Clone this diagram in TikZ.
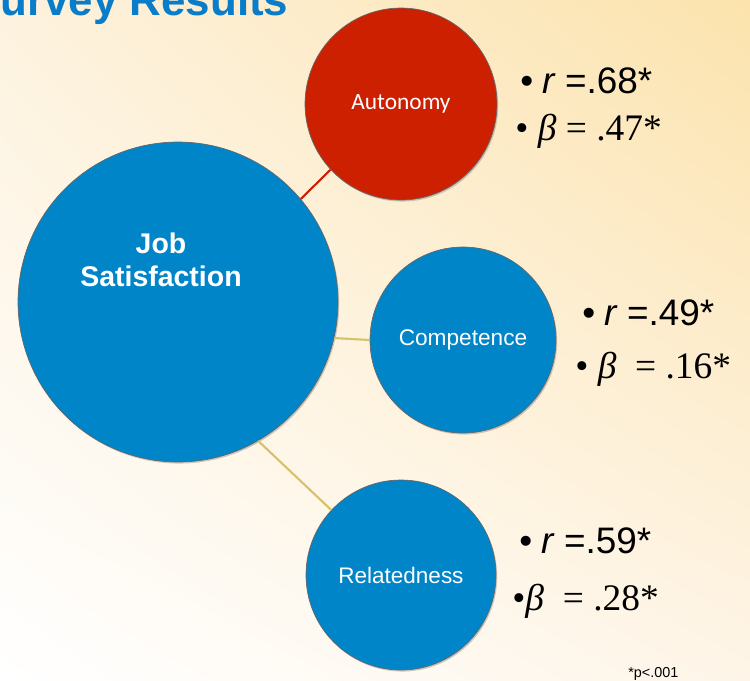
\documentclass[tikz,border=0pt]{standalone}
\usepackage{fontspec}
\setmainfont{Liberation Sans}
\newfontfamily\timesfont{Liberation Serif}
\newfontfamily\calibrifont{Carlito}
\usepackage{tikz}
\usetikzlibrary{positioning,shadows,shadings}
\usepackage{xcolor}
\definecolor{jsblue}{HTML}{0085C8}
\definecolor{autred}{HTML}{CC2000}
\definecolor{linkgold}{HTML}{D5C26A}
\definecolor{titleblue}{HTML}{0A7DCA}
\definecolor{bgtl}{RGB}{253,242,222}
\definecolor{bgtr}{RGB}{252,227,173}
\definecolor{bgbr}{RGB}{254,245,232}
\tikzset{
    bubble/.style={
        draw=black!60,
        line width=0.4pt,
        circle,
        fill=jsblue,
        text=white,
        inner sep=0pt,
        drop shadow={shadow xshift=0.7pt, shadow yshift=-0.9pt, opacity=0.4}
    },
    redlink/.style={draw=autred, line width=1.2pt},
    goldlink/.style={draw=linkgold, line width=1.2pt},
    stat/.style={anchor=base west, inner sep=0pt, font=\fontsize{21}{23}\selectfont},
    betastat/.style={anchor=base west, inner sep=0pt, font=\timesfont\fontsize{21.3}{23}\selectfont}
}

\begin{document}
\begin{tikzpicture}[x=0.02cm, y=-0.02cm]
  \useasboundingbox (0,0) rectangle (750,680);
  \clip (0,0) rectangle (750,680);
  % background
  \shade[shading=bilinear interpolation, upper left=bgtl, upper right=bgtr,
         lower left=white, lower right=bgbr] (0,0) rectangle (750,680);

  \node[anchor=base west, inner sep=0pt, text=titleblue, font=\bfseries\fontsize{25}{27}\selectfont] (title) at (0,15) {urvey Results};

  % circles
  \node[bubble, minimum size=6.4cm] (job) at (178,302) {};
  \node[text=white, align=center, font=\bfseries\fontsize{16.2}{18.7}\selectfont] (jobtxt) at (161,260) {Job\\Satisfaction};
  \node[bubble, fill=autred, minimum size=3.84cm, font=\calibrifont\fontsize{13.3}{15}\selectfont] (aut) at (401,104) {Autonomy};
  \node[bubble, minimum size=3.72cm, font=\fontsize{12.9}{15}\selectfont] (comp) at (463,340) {Competence};
  \node[bubble, minimum size=3.8cm, font=\fontsize{12.8}{15}\selectfont] (rel) at (401,575) {Relatedness};

  % links
  \draw[redlink] (job.40.7) -- (aut.223);
  \draw[goldlink] (job.-13) -- (comp.180);
  \draw[goldlink] (job.-60) -- (rel.137);

  % statistics
  \node[stat] (autr) at (520,93) {•\hspace{0.25em}{\itshape r} =.68*};
  \node[betastat] (autb) at (515,140) {• {\itshape β} = .47*};
  \node[stat] (compr) at (582,325) {•\hspace{0.25em}{\itshape r} =.49*};
  \node[betastat] (compb) at (575,378) {• {\itshape β}\ \ = .16*};
  \node[stat] (relr) at (519,553) {•\hspace{0.25em}{\itshape r} =.59*};
  \node[betastat] (relb) at (512,610) {•{\itshape β}\ \ = .28*};

  \node[anchor=base west, inner sep=0pt, font=\fontsize{8.2}{10}\selectfont] (pval) at (628,677) {*p<.001};
\end{tikzpicture}
\end{document}
